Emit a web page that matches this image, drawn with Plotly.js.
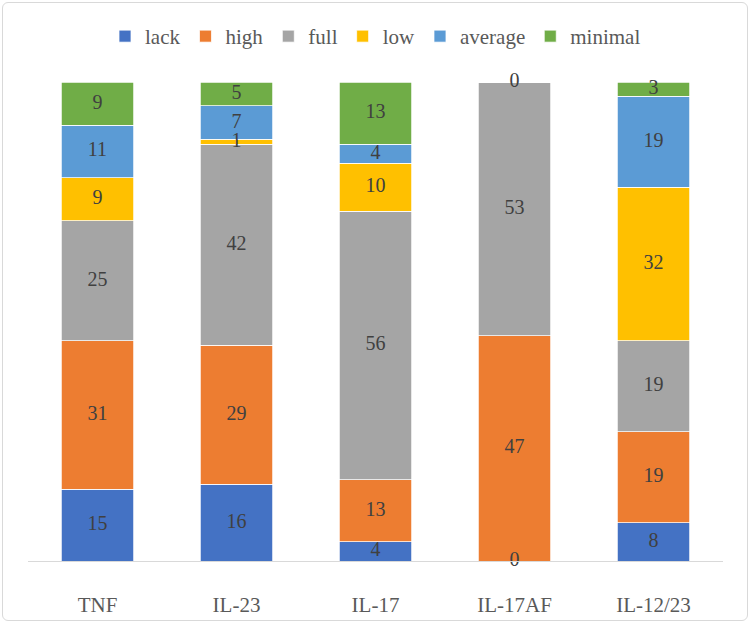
<!DOCTYPE html>
<html>
<head>
<meta charset="utf-8">
<script src="https://cdn.plot.ly/plotly-3.0.1.min.js"></script>
<style>
  html, body { margin: 0; padding: 0; background: #fff; }
  #wrap { position: relative; width: 750px; height: 623px; }
  #chart { width: 750px; height: 623px; }
  #frame { position: absolute; left: 2px; top: 2px; width: 744px; height: 617px;
           border: 1px solid #d9d9d9; border-radius: 6px; pointer-events: none; }
</style>
</head>
<body>
<div id="wrap"><div id="chart"></div><div id="frame"></div></div>
<script>
const categories = ["TNF", "IL-23", "IL-17", "IL-17AF", "IL-12/23"];
const seriesNames = ["lack", "high", "full", "low", "average", "minimal"];
const lack    = [15, 16, 4, 0, 8];
const high    = [31, 29, 13, 47, 19];
const full    = [25, 42, 56, 53, 19];
const low     = [9, 1, 10, 0, 32];
const average = [11, 7, 4, 0, 19];
const minimal = [9, 5, 13, 0, 3];
const colors = ["#4472C4", "#ED7D31", "#A5A5A5", "#FFC000", "#5B9BD5", "#70AD47"];

const seriesValues = [lack, high, full, low, average, minimal];
const fontFam = "'Liberation Serif', 'DejaVu Serif', serif";

const traces = [];
seriesValues.forEach((vals, i) => {
  traces.push({
    type: "bar",
    name: seriesNames[i],
    x: categories,
    y: vals,
    marker: { color: colors[i], line: { color: "#ffffff", width: 0.75 } },
    textposition: "none",
    hoverinfo: "name+y"
  });
});

// data labels at the middle of each stacked segment (skip exact duplicates at the same spot)
const base = categories.map(() => 0);
const used = categories.map(() => new Set());
seriesValues.forEach((vals, i) => {
  const xs = [], ys = [], ts = [];
  vals.forEach((v, j) => {
    const y = base[j] + v / 2;
    base[j] += v;
    const key = y.toFixed(3) + "|" + v;
    if (used[j].has(key)) return;
    used[j].add(key);
    xs.push(categories[j]); ys.push(y); ts.push(String(v));
  });
  traces.push({
    type: "scatter",
    mode: "text",
    x: xs,
    y: ys,
    text: ts,
    textposition: "middle center",
    textfont: { family: fontFam, size: 20, color: "#404040" },
    showlegend: false,
    hoverinfo: "skip",
    cliponaxis: false
  });
});

const layout = {
  width: 750,
  height: 623,
  margin: { l: 28, r: 27, t: 82, b: 62, autoexpand: false },
  barmode: "stack",
  bargap: 0.48,
  paper_bgcolor: "#ffffff",
  plot_bgcolor: "#ffffff",
  font: { family: fontFam, size: 21, color: "#595959" },
  showlegend: true,
  legend: {
    orientation: "h",
    x: 0.5, xanchor: "center",
    y: 1.095, yanchor: "middle",
    font: { family: fontFam, size: 21, color: "#595959" },
    itemwidth: 30,
    traceorder: "normal"
  },
  xaxis: {
    type: "category",
    showgrid: false,
    showline: true,
    linecolor: "#d9d9d9",
    linewidth: 1,
    ticks: "",
    tickfont: { family: fontFam, size: 21, color: "#595959" },
    ticklabelstandoff: 25,
    zeroline: false,
    fixedrange: true
  },
  yaxis: {
    range: [0, 100],
    visible: false,
    showgrid: false,
    zeroline: false,
    fixedrange: true
  }
};

Plotly.newPlot("chart", traces, layout, { displayModeBar: false, staticPlot: true });
</script>
</body>
</html>
